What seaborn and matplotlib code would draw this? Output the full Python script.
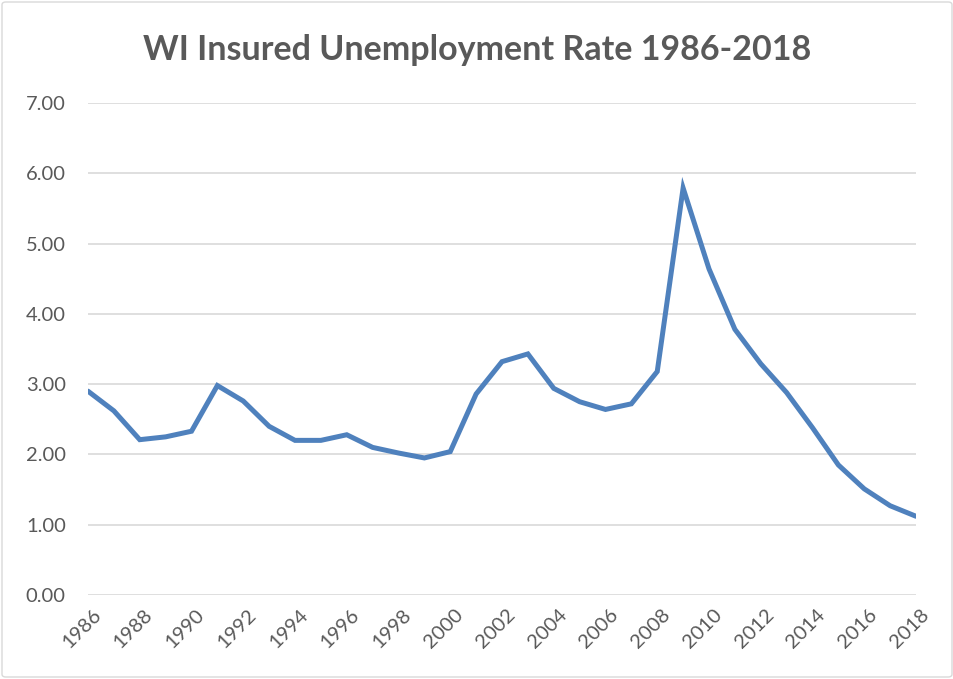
import matplotlib
matplotlib.use("Agg")
import matplotlib.pyplot as plt
from matplotlib.patches import FancyBboxPatch
import seaborn as sns
import pandas as pd

years = list(range(1986, 2019))
rates = [2.90, 2.62, 2.21, 2.25, 2.33, 2.98, 2.76, 2.40, 2.20, 2.20,
         2.28, 2.10, 2.02, 1.95, 2.04, 2.86, 3.32, 3.43, 2.94, 2.75,
         2.64, 2.72, 3.18, 5.79, 4.64, 3.78, 3.29, 2.88, 2.38, 1.85,
         1.51, 1.27, 1.12]
y_ticks = [0, 1, 2, 3, 4, 5, 6, 7]
x_ticks = list(range(1986, 2019, 2))
title = "WI Insured Unemployment Rate 1986-2018"

df = pd.DataFrame({"year": years, "rate": rates})

sns.set_theme(style="white")
plt.rcParams["font.family"] = ["Lato", "DejaVu Sans"]

text_color = "#595959"
fig = plt.figure(figsize=(9.54, 6.79), dpi=100)
ax = fig.add_axes([88 / 954, 84 / 679, (916 - 88) / 954, (595 - 103) / 679])

sns.lineplot(data=df, x="year", y="rate", ax=ax, color="#4F81BD",
             linewidth=3.6, solid_joinstyle="miter")

ax.set_xlim(1986, 2018)
ax.set_ylim(0, 7)
ax.set_yticks(y_ticks)
ax.set_yticklabels([f"{v:.2f}" for v in y_ticks])
ax.set_xticks(x_ticks)
ax.set_xticklabels([str(v) for v in x_ticks], rotation=45, ha="right",
                   rotation_mode="anchor")
ax.tick_params(axis="both", length=0, labelsize=14.5, colors=text_color)
ax.tick_params(axis="y", pad=16)
ax.tick_params(axis="x", pad=8)
for lbl in ax.get_xticklabels():
    lbl.set_transform(lbl.get_transform() + matplotlib.transforms.ScaledTranslation(3 / 72, 0, fig.dpi_scale_trans))
ax.set_xlabel("")
ax.set_ylabel("")
ax.grid(axis="y", color="#D9D9D9", linewidth=1.2)
ax.set_axisbelow(True)
for s in ax.spines.values():
    s.set_visible(False)

fig.text(0.5, 1 - 50 / 679, title, ha="center", va="center",
         fontsize=24.5, fontweight="bold", color=text_color)

# chart-area frame
frame = FancyBboxPatch((2 / 954, 2 / 679), 950 / 954, 675 / 679,
                       boxstyle="round,pad=0,rounding_size=0.004",
                       transform=fig.transFigure, fill=False,
                       edgecolor="#D9D9D9", linewidth=1)
fig.patches.append(frame)

fig.savefig("out.png", dpi=100)
